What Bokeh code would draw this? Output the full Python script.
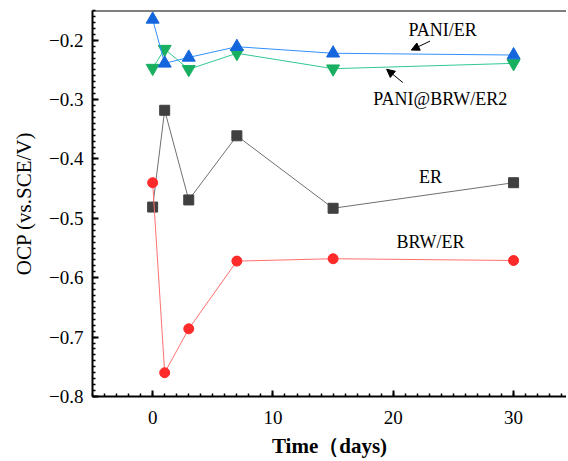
from bokeh.plotting import figure
from bokeh.embed import file_html
from bokeh.resources import INLINE
from bokeh.models import Range1d, FixedTicker, Arrow, NormalHead, Span, Label

days = [0, 1, 3, 7, 15, 30]
pani_er = [-0.165, -0.239, -0.229, -0.211, -0.222, -0.225]
pani_brw_er2 = [-0.247, -0.215, -0.249, -0.222, -0.248, -0.239]
er = [-0.481, -0.318, -0.469, -0.361, -0.483, -0.440]
brw_er = [-0.440, -0.760, -0.686, -0.572, -0.568, -0.571]

x_ticks = [0, 10, 20, 30]
x_tick_labels = ["0", "10", "20", "30"]
y_ticks = [-0.8, -0.7, -0.6, -0.5, -0.4, -0.3, -0.2]
y_tick_labels = ["\u22120.8", "\u22120.7", "\u22120.6", "\u22120.5", "\u22120.4", "\u22120.3", "\u22120.2"]

labels = ["PANI/ER", "PANI@BRW/ER2", "ER", "BRW/ER"]
label_x = [24.1, 23.9, 23.1, 23.1]
label_y = [-0.1835, -0.2995, -0.430, -0.540]

FONT = "Liberation Serif"

p = figure(width=566, height=460, output_backend="svg", toolbar_location=None,
           x_range=Range1d(-5, 34.4), y_range=Range1d(-0.8, -0.15),
           min_border_left=92, min_border_right=0, min_border_top=10, min_border_bottom=10)
p.outline_line_color = None
p.xgrid.grid_line_color = None
p.ygrid.grid_line_color = None
p.background_fill_color = "white"
p.border_fill_color = "white"

p.add_layout(Span(location=-0.15, dimension="width", line_color="black", line_width=2))

for ax in (p.xaxis[0], p.yaxis[0]):
    ax.axis_line_width = 2
    ax.axis_line_color = "black"
    ax.major_tick_in = 6
    ax.major_tick_out = 0
    ax.minor_tick_in = 3
    ax.minor_tick_out = 0
    ax.major_tick_line_width = 2
    ax.minor_tick_line_width = 1.5
    ax.major_label_text_font = FONT
    ax.major_label_text_font_size = "19px"
    ax.major_label_text_color = "black"
    ax.axis_label_text_font = FONT
    ax.axis_label_text_font_size = "21px"
    ax.axis_label_text_color = "black"

p.xaxis.ticker = FixedTicker(ticks=x_ticks, minor_ticks=list(range(-5, 35)))
p.xaxis.major_label_overrides = dict(zip(x_ticks, x_tick_labels))
p.yaxis.ticker = FixedTicker(ticks=y_ticks, minor_ticks=[round(-0.8 + 0.01 * i, 2) for i in range(66)])
p.yaxis.major_label_overrides = dict(zip(y_ticks, y_tick_labels))
p.xaxis.axis_label = "Time\uff08days)"
p.xaxis.axis_label_text_font_style = "bold"
p.yaxis.axis_label = "OCP (vs.SCE/V)"
p.yaxis.axis_label_text_font_style = "normal"
p.xaxis.major_label_standoff = 14
p.yaxis.major_label_standoff = 9
p.xaxis.axis_label_standoff = 7
p.yaxis.axis_label_standoff = 10

p.line(days, er, line_color="#707070", line_width=1)
p.scatter(days, er, marker="square", size=10, fill_color="#404040", line_color="#404040")

p.line(days, brw_er, line_color="#ff7070", line_width=1)
p.scatter(days, brw_er, marker="circle", size=10, fill_color="#ff2a2a", line_color="#ff2a2a")

p.line(days, pani_brw_er2, line_color="#30c890", line_width=1)
p.scatter(days, pani_brw_er2, marker="inverted_triangle", size=13, fill_color="#18b060", line_color="#18b060")

p.line(days, pani_er, line_color="#3090ff", line_width=1)
p.scatter(days, pani_er, marker="triangle", size=13, fill_color="#1466dc", line_color="#1466dc")

for t, x, y in zip(labels, label_x, label_y):
    p.add_layout(Label(x=x, y=y, text=t, text_font=FONT, text_font_size="18px",
                       text_align="center", text_baseline="middle", text_color="black"))

p.add_layout(Arrow(end=NormalHead(size=8, fill_color="black", line_color="black"),
                   x_start=23.06, y_start=-0.2015, x_end=21.5, y_end=-0.2166,
                   line_color="black", line_width=1))
p.add_layout(Arrow(end=NormalHead(size=8, fill_color="black", line_color="black"),
                   x_start=20.8, y_start=-0.2714, x_end=19.45, y_end=-0.249,
                   line_color="black", line_width=1))

open("out.html", "w").write(file_html(p, INLINE))
